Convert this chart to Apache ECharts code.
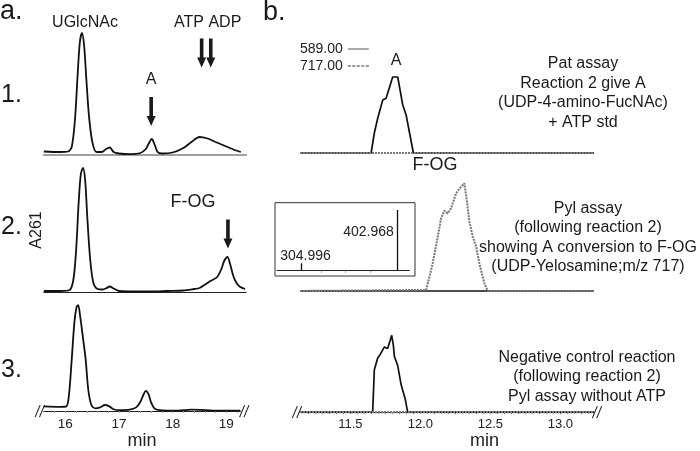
<!DOCTYPE html>
<html><head><meta charset="utf-8">
<script src="https://cdn.jsdelivr.net/npm/echarts@6/dist/echarts.min.js"></script>
<style>html,body{margin:0;padding:0;background:#fff}#c{width:700px;height:451px}</style>
</head><body><div id="c"></div>
<script>
// ---------- Panel a : HPLC traces (min, A261 in arbitrary units) ----------
const aTicks = [16, 17, 18, 19];
const a1Time = [15.6, 15.9, 16.05, 16.12, 16.18, 16.23, 16.27, 16.31, 16.35, 16.39, 16.44, 16.5, 16.58, 16.68, 16.76, 16.83, 16.9, 17.0, 17.2, 17.4, 17.5, 17.56, 17.61, 17.66, 17.72, 17.8, 18.0, 18.2, 18.35, 18.5, 18.65, 18.8, 19.0, 19.15, 19.27];
const a1Val  = [3.5, 3, 3.5, 8, 35, 80, 112, 122, 110, 78, 40, 14, 3, 3, 6, 7.5, 3, 1.5, 0.8, 2, 6, 12, 16, 11, 3, 1.5, 2.5, 7, 13, 18, 16.5, 13, 8.5, 5, 3];
const a2Time = [15.6, 15.9, 16.08, 16.15, 16.2, 16.25, 16.29, 16.33, 16.37, 16.41, 16.46, 16.52, 16.6, 16.7, 16.77, 16.83, 16.9, 17.0, 17.3, 17.6, 17.9, 18.2, 18.4, 18.5, 18.62, 18.7, 18.76, 18.83, 18.9, 18.96, 19.02, 19.07, 19.13, 19.19, 19.26, 19.35];
const a2Val  = [1, 1, 2, 12, 40, 90, 118, 124, 112, 75, 35, 10, 3, 2.5, 4, 5.5, 3.5, 1, 0.5, 0.5, 1, 1.5, 3, 4, 8, 11, 12.5, 15, 22, 31, 35, 28, 16, 9, 5, 3];
const a3Time = [15.6, 15.9, 16.02, 16.07, 16.12, 16.17, 16.21, 16.24, 16.28, 16.33, 16.38, 16.43, 16.49, 16.56, 16.65, 16.74, 16.82, 16.9, 17.0, 17.2, 17.32, 17.4, 17.46, 17.5, 17.55, 17.6, 17.66, 17.75, 17.9, 18.1, 18.35, 18.6, 18.9, 19.26];
const a3Val  = [5, 4.5, 5, 18, 55, 95, 111, 113, 100, 78, 55, 22, 6, 3, 4, 6.5, 5, 2, 1, 1.5, 4, 10, 18, 21.5, 18, 9, 3, 1, 0.5, 0.5, 1.5, 1, 0.5, 0.5];

// ---------- Panel b : extracted ion chromatograms ----------
const bTicks = [11.5, 12.0, 12.5, 13.0];
const b1Time589 = [11.14, 11.648, 11.671, 11.695, 11.731, 11.755, 11.802, 11.838, 11.874, 11.898, 11.95, 13.24];
const b1Val589  = [0, 0, 20, 34.7, 53, 54.7, 76, 76, 48, 38, 0, 0];
const b1Time717 = [11.14, 13.24];
const b1Val717  = [0, 0];
const b2Time589 = [11.14, 13.24];
const b2Val589  = [0, 0];
const b2Time717 = [11.14, 12.041, 12.088, 12.124, 12.148, 12.171, 12.195, 12.219, 12.255, 12.291, 12.314, 12.331, 12.35, 12.374, 12.398, 12.421, 12.457, 12.481, 13.24];
const b2Val717  = [0, 1, 27.7, 54.3, 72.7, 80.3, 77.7, 82.7, 97.7, 104.3, 107.7, 91, 69.3, 54.3, 44.3, 27.7, 7.7, 0, 0];
const b3Time589 = [11.14, 11.659, 11.671, 11.695, 11.712, 11.743, 11.766, 11.784, 11.795, 11.807, 11.814, 11.838, 11.862, 11.891, 11.909, 13.24];
const b3Val589  = [0, 0, 45, 57.6, 61, 69.3, 67.6, 76, 81.6, 71, 59.3, 49.3, 29.3, 14.3, 0, 0];
const b3Time717 = [11.14, 13.24];
const b3Val717  = [0, 0];
// inset mass spectrum
const msMz  = [304.996, 402.968];
const msInt = [7.4, 60.7];

const FONT = 'Liberation Sans, Arial, Helvetica, sans-serif';
const pairs = (t, v) => t.map((x, i) => [x, v[i]]);
const arrowPath = 'path://M3,0 L7,0 L7,19 L10,19 L5,29 L0,19 L3,19 Z';

const chart = echarts.init(document.getElementById('c'), null, {renderer: 'canvas'});

const grids = [
  {left: 43.8, top: 30, width: 202.4, height: 125},
  {left: 43.8, top: 167, width: 202.4, height: 125},
  {left: 43.8, top: 294, width: 196.5, height: 125},
  {left: 300, top: 28, width: 294, height: 125},
  {left: 300, top: 166, width: 294, height: 125},
  {left: 300, top: 294.5, width: 294, height: 125},
  {left: 277, top: 205, width: 132.3, height: 65.7}
];
const hidden = {show: false};
function xa(grid, min, max, extra) {
  return Object.assign({type: 'value', gridIndex: grid, min: min, max: max,
    axisLabel: hidden, axisTick: hidden, splitLine: hidden, axisLine: hidden}, extra || {});
}
const xAxes = [
  xa(0, 15.6, 19.37, {axisLine: {show: true, lineStyle: {color: '#a0a0a0', width: 2}}}),
  xa(1, 15.6, 19.37, {axisLine: {show: true, lineStyle: {color: '#222', width: 1}}}),
  xa(2, 15.6, 19.26, {
    axisLine: {show: true, lineStyle: {color: '#222', width: 1}},
    axisTick: {show: true, length: 2, lineStyle: {color: '#aaa'}, customValues: [15.8,16,16.2,16.4,16.6,16.8,17,17.2,17.4,17.6,17.8,18,18.2,18.4,18.6,18.8,19,19.2]},
    axisLabel: {show: true, customValues: aTicks, fontSize: 13.5, color: '#222', fontFamily: FONT, margin: 6},
    name: 'min', nameLocation: 'middle', nameGap: 16, nameTextStyle: {fontSize: 18, color: '#222', fontFamily: FONT}
  }),
  xa(3, 11.14, 13.24),
  xa(4, 11.14, 13.24),
  xa(5, 11.14, 13.24, {
    axisLine: {show: true, lineStyle: {color: '#222', width: 1}},
    axisTick: {show: true, length: 2, lineStyle: {color: '#888'}, customValues: [11.2,11.25,11.3,11.35,11.4,11.45,11.5,11.55,11.6,11.65,11.7,11.75,11.8,11.85,11.9,11.95,12,12.05,12.1,12.15,12.2,12.25,12.3,12.35,12.4,12.45,12.5,12.55,12.6,12.65,12.7,12.75,12.8,12.85,12.9,12.95,13,13.05,13.1,13.15,13.2]},
    axisLabel: {show: true, customValues: bTicks, fontSize: 13, color: '#222', fontFamily: FONT, margin: 6, formatter: v => v.toFixed(1)},
    name: 'min', nameLocation: 'middle', nameGap: 15.5, nameTextStyle: {fontSize: 18, color: '#222', fontFamily: FONT, padding: [0, 0, 0, 75]}
  }),
  xa(6, 280, 415, {
    axisLine: {show: true, lineStyle: {color: '#222', width: 1}},
    axisTick: {show: true, length: 2, lineStyle: {color: '#999'}, customValues: [325, 350, 375]}
  })
];
const yAxes = grids.map((g, i) => ({type: 'value', gridIndex: i, min: 0, max: g.height, show: false}));

const baseLine = {type: 'line', symbol: 'none', clip: false, animation: false};
function trace(idx, data, style, extra) {
  return Object.assign({}, baseLine, {xAxisIndex: idx, yAxisIndex: idx, data: data, lineStyle: style}, extra || {});
}
const aStyle = {color: '#111', width: 1.8};
const s589 = {color: '#111', width: 1.7};
const s717 = {color: '#7a7a7a', width: 2.1, type: [2, 1]};
function arrows(list) {
  return {symbol: arrowPath, symbolSize: [9, 29], silent: true, label: {show: false},
    itemStyle: {color: '#1a1a1a'}, data: list.map(c => ({coord: c}))};
}

const series = [
  trace(0, pairs(a1Time, a1Val), aStyle, {smooth: 0.3, color: '#111',
    markPoint: arrows([[17.6, 43.5], [18.54, 102], [18.71, 102]])}),
  trace(1, pairs(a2Time, a2Val), aStyle, {smooth: 0.3, color: '#111',
    markPoint: arrows([[19.03, 58]])}),
  trace(2, pairs(a3Time, a3Val), aStyle, {smooth: 0.3, color: '#111'}),
  trace(3, pairs(b1Time589, b1Val589), s589, {name: '589.00', color: '#111'}),
  trace(3, pairs(b1Time717, b1Val717), s717, {name: '717.00', color: '#7a7a7a'}),
  trace(4, pairs(b2Time589, b2Val589), s589, {name: '589.00', color: '#111'}),
  trace(4, pairs(b2Time717, b2Val717), s717, {name: '717.00', color: '#7a7a7a'}),
  trace(5, pairs(b3Time589, b3Val589), s589, {name: '589.00', color: '#111'}),
  trace(5, pairs(b3Time717, b3Val717), s717, {name: '717.00', color: '#7a7a7a'}),
  {type: 'bar', xAxisIndex: 6, yAxisIndex: 6, barWidth: 1.3, animation: false, silent: true,
   itemStyle: {color: '#111'},
   data: [
     {value: [msMz[0], msInt[0]], label: {show: true, position: 'top', distance: 0, offset: [4, 0], formatter: String(msMz[0].toFixed(3)), fontSize: 14, color: '#222', fontFamily: FONT}},
     {value: [msMz[1], msInt[1]], label: {show: true, position: 'left', distance: 3, offset: [0, -8], formatter: String(msMz[1].toFixed(3)), fontSize: 14, color: '#222', fontFamily: FONT}}
   ]}
];

function txt(id, text, x, y, size, align, extra) {
  return Object.assign({type: 'text', id: id, x: x, y: y, silent: true,
    style: {text: text, fontSize: size, fontFamily: FONT, fill: '#1a1a1a', align: align || 'center', verticalAlign: 'middle', lineHeight: 19.6}}, extra || {});
}
const graphics = [
  txt('ta', 'a.', 0, 12, 27, 'left'),
  txt('tb', 'b.', 263, 13, 27, 'left'),
  txt('t1', '1.', 1, 95, 25, 'left'),
  txt('t2', '2.', 1, 227, 25, 'left'),
  txt('t3', '3.', 1, 370, 25, 'left'),
  txt('tu', 'UGlcNAc', 85, 23, 16),
  txt('tatp', 'ATP ADP', 207.7, 23, 16),
  txt('tA1', 'A', 151, 80, 16),
  txt('tf1', 'F-OG', 193, 201.7, 18),
  txt('ty', 'A261', 36.7, 230, 16, 'center', {rotation: Math.PI / 2}),
  txt('tA2', 'A', 396, 60.7, 16),
  txt('tf2', 'F-OG', 435, 165, 18),
  txt('blk1', 'Pat assay\nReaction 2 give A\n(UDP-4-amino-FucNAc)\n+ ATP std', 583, 93, 16),
  txt('blk2', 'Pyl assay\n(following reaction 2)\nshowing A conversion to F-OG\n(UDP-Yelosamine;m/z 717)', 588, 237.5, 16),
  txt('blk3', 'Negative control reaction\n(following reaction 2)\nPyl assay without ATP', 587, 377, 16),
  {type: 'rect', id: 'inset', silent: true, shape: {x: 275, y: 202.7, width: 140, height: 73.3},
   style: {fill: 'none', stroke: '#333', lineWidth: 1}}
];

const solidIcon = 'path://M0,0 L21,0 L21,1 L0,1 Z';
const dashIcon = 'path://M0,0h3v1h-3z M4.5,0h3v1h-3z M9,0h3v1h-3z M13.5,0h3v1h-3z M18,0h3v1h-3z';

chart.setOption({
  animation: false,
  backgroundColor: '#fff',
  textStyle: {fontFamily: FONT},
  grid: grids,
  xAxis: xAxes,
  yAxis: yAxes,
  legend: {
    data: [
      {name: '589.00', icon: solidIcon, itemStyle: {color: '#555'}},
      {name: '717.00', icon: dashIcon, itemStyle: {color: '#333'}}
    ],
    left: 300, top: 42, padding: 0, orient: 'vertical', align: 'right', symbolKeepAspect: true,
    itemWidth: 21, itemHeight: 14, itemGap: 3, selectedMode: false,
    textStyle: {fontSize: 14, color: '#222', fontFamily: FONT}},
  series: series,
  graphic: graphics
});

// axis-break marks at the ends of the two bottom axes
function breakMark(id, px, py) {
  const out = [];
  [-2.2, 2.2].forEach((dx, k) => {
    out.push({type: 'line', id: id + k, silent: true,
      shape: {x1: px + dx - 2.5, y1: py + 6, x2: px + dx + 2.5, y2: py - 6},
      style: {stroke: '#222', lineWidth: 1.1}});
  });
  return out;
}
const extra = [];
const aL = chart.convertToPixel({xAxisIndex: 2, yAxisIndex: 2}, [15.6, 0]);
const aR = chart.convertToPixel({xAxisIndex: 2, yAxisIndex: 2}, [19.26, 0]);
const bL = chart.convertToPixel({xAxisIndex: 5, yAxisIndex: 5}, [11.14, 0]);
const bR = chart.convertToPixel({xAxisIndex: 5, yAxisIndex: 5}, [13.24, 0]);
extra.push(...breakMark('bkaL', aL[0] - 4, aL[1]), ...breakMark('bkaR', aR[0] + 4, aR[1]),
           ...breakMark('bkbL', bL[0] - 3, bL[1]), ...breakMark('bkbR', bR[0] + 3, bR[1]));
chart.setOption({graphic: extra});
</script></body></html>
